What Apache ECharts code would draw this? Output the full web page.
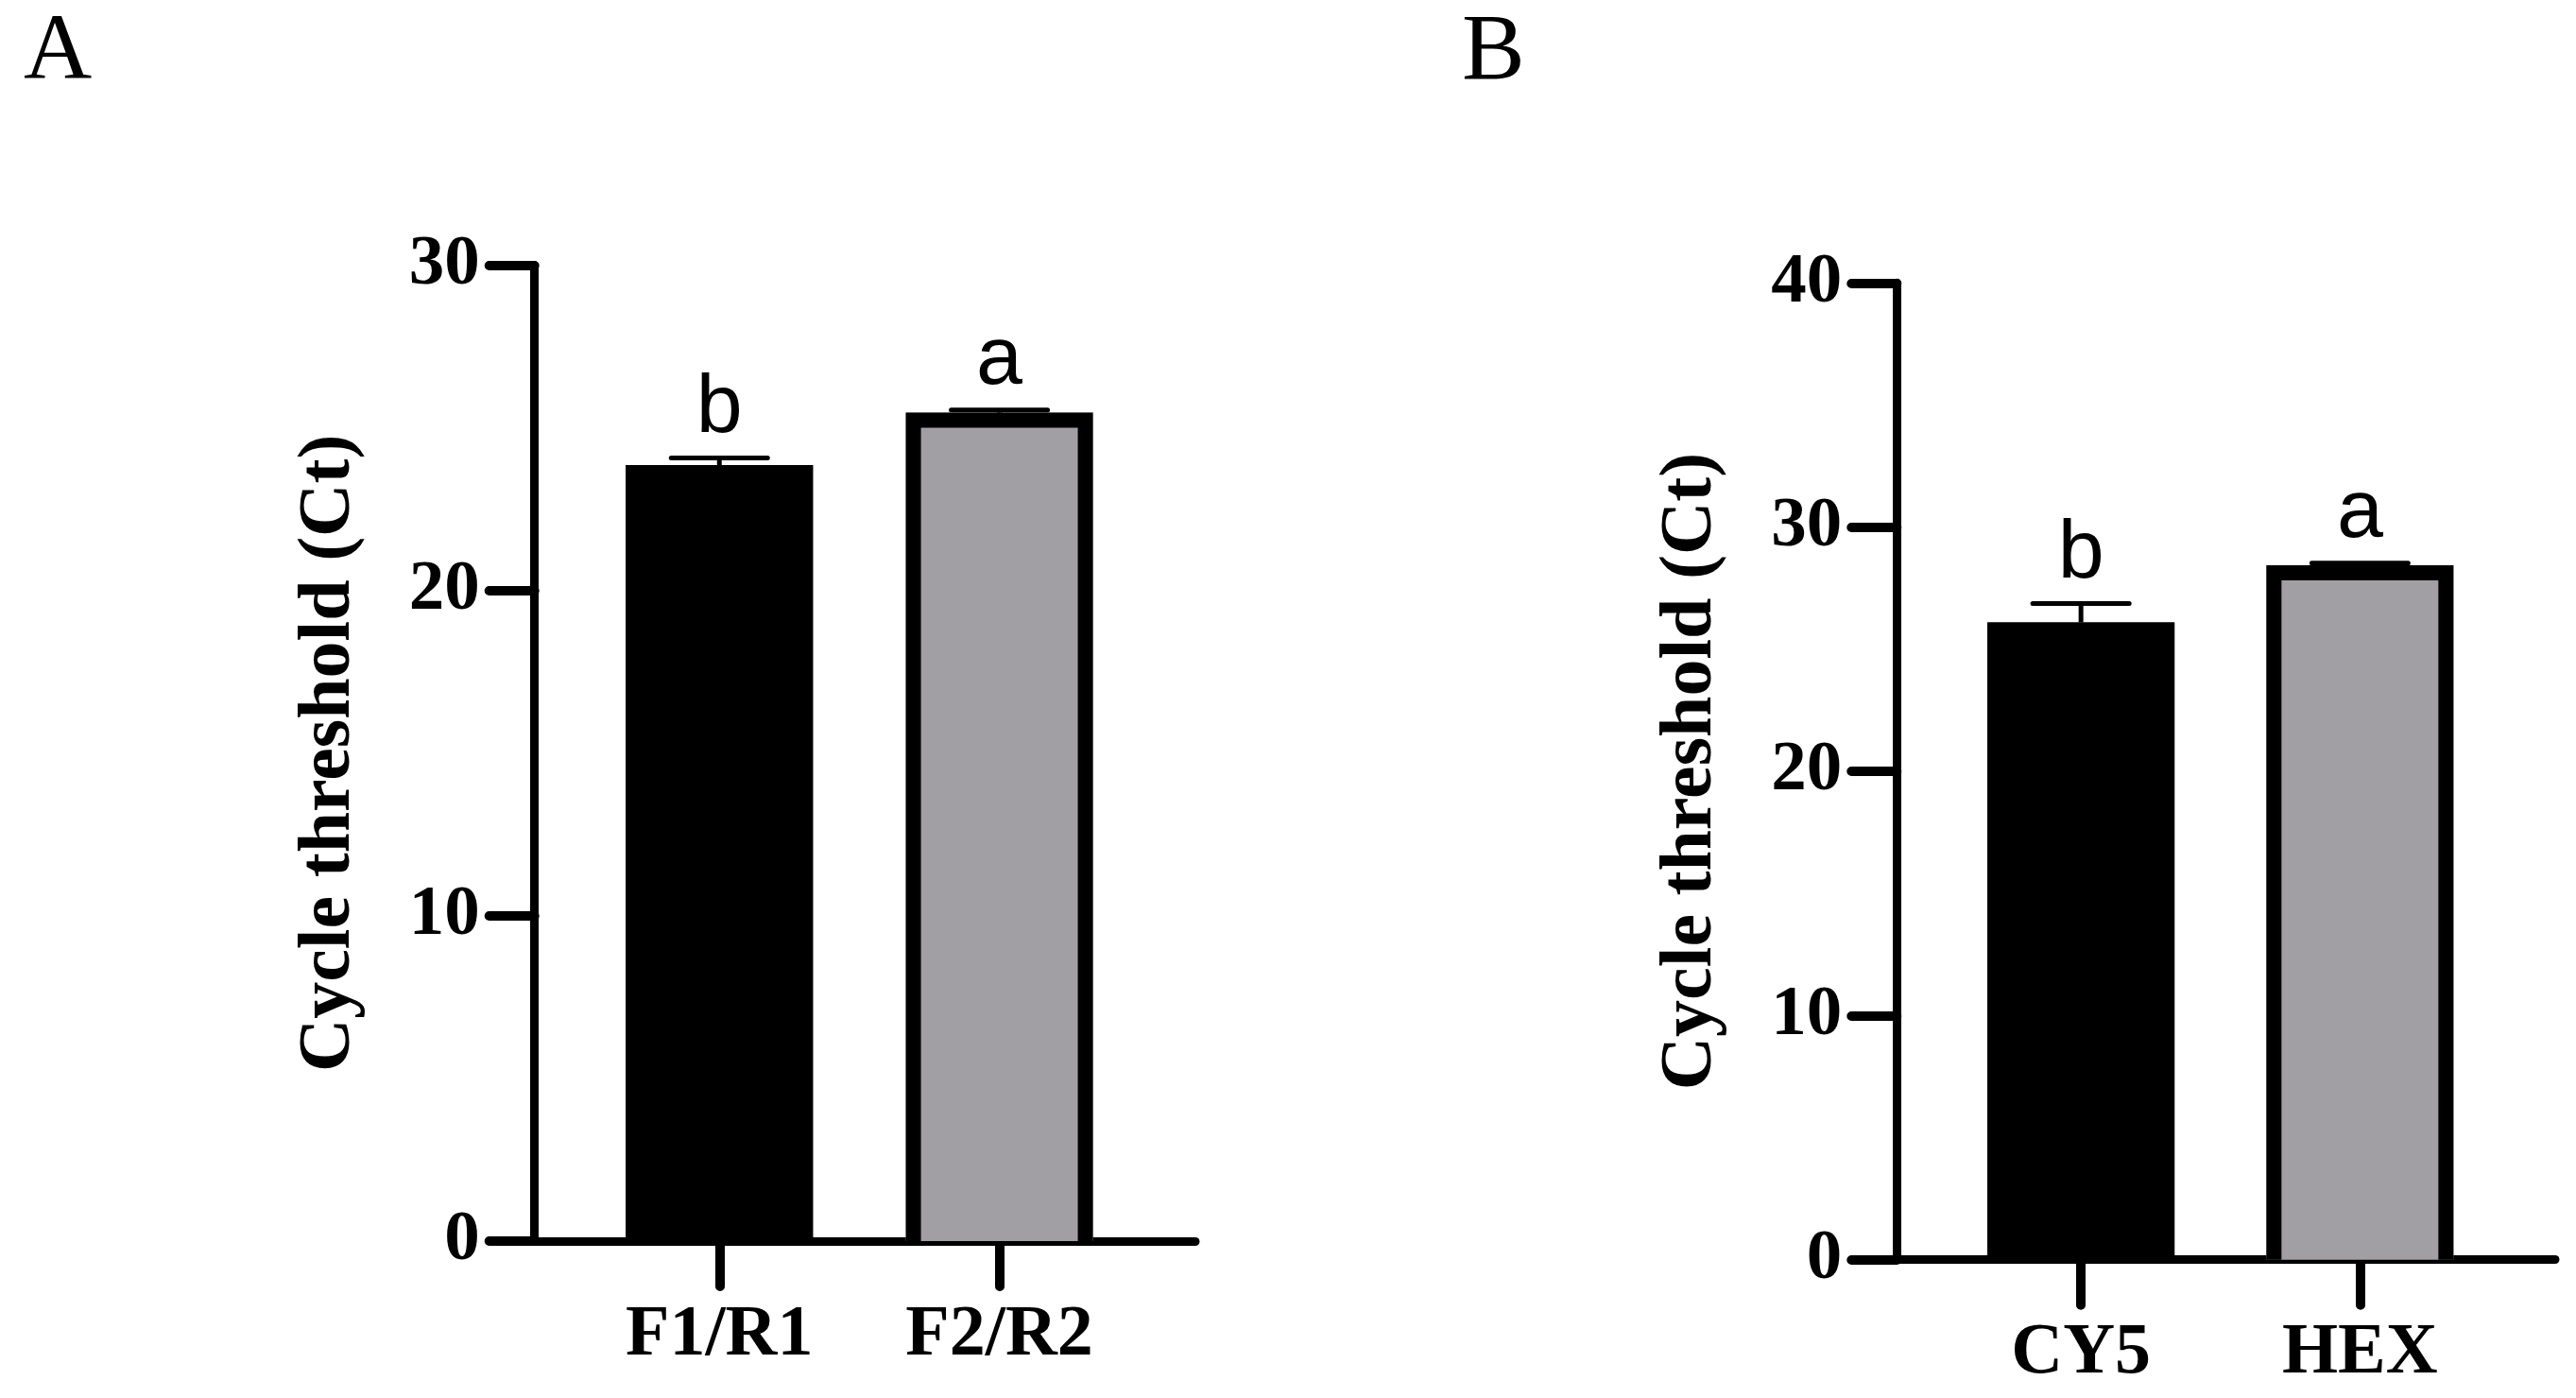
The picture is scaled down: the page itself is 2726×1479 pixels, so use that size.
<!DOCTYPE html>
<html>
<head>
<meta charset="utf-8">
<script src="https://cdn.jsdelivr.net/npm/echarts@6/dist/echarts.min.js"></script>
<style>
  html, body { margin: 0; padding: 0; background: #fff; }
  #main { width: 2726px; height: 1479px; }
</style>
</head>
<body>
<div id="main"></div>
<script>
// panel A: primers
var catsA = ['F1/R1', 'F2/R2'];
var meanA = [23.86, 25.47];
var errA = [0.22, 0.08];
var lettersA = ['b', 'a'];
var ticksA = [0, 10, 20, 30];

// panel B: probes
var catsB = ['CY5', 'HEX'];
var meanB = [26.10, 28.44];
var errB = [0.77, 0.09];
var lettersB = ['b', 'a'];
var ticksB = [0, 10, 20, 30, 40];

var barColors = ['#000000', '#a19fa4'];
var serif = 'Liberation Serif';

var chartDom = document.getElementById('main');
var myChart = echarts.init(chartDom);

//x 轴
function make_x(gridIndex, cats){
    return {
        type: 'value',
        gridIndex: gridIndex,
        min: 0.34,
        max: 2.7,
        splitLine: { show: false },
        axisLine: { onZero: false, lineStyle: { color: '#000', width: 9, cap: 'round' } },
        axisTick: { customValues: [1, 2], length: 48, lineStyle: { color: '#000', width: 10, cap: 'round' } },
        axisLabel: {
            customValues: [1, 2],
            margin: 62,
            color: '#000',
            fontFamily: serif,
            fontWeight: 'bold',
            fontSize: 76,
            lineHeight: 76,
            formatter: function(v){ return cats[Math.round(v) - 1] || ''; }
        }
    };
}
//y 轴
function make_y(gridIndex, ticks){
    return {
        type: 'value',
        gridIndex: gridIndex,
        min: ticks[0],
        max: ticks[ticks.length - 1],
        interval: ticks[1] - ticks[0],
        name: 'Cycle threshold (Ct)',
        nameLocation: 'middle',
        nameGap: 178,
        nameTextStyle: { color: '#000', fontFamily: serif, fontWeight: 'bold', fontSize: 78 },
        splitLine: { show: false },
        axisLine: { onZero: false, lineStyle: { color: '#000', width: 9, cap: 'round' } },
        axisTick: { length: 48, lineStyle: { color: '#000', width: 10, cap: 'round' } },
        axisLabel: { margin: 58, color: '#000', fontFamily: serif, fontWeight: 'bold', fontSize: 75 }
    };
}
function bar_series(idx, means){
    var data = [];
    for (var i = 0; i < means.length; i++){
        data.push({ value: [i + 1, means[i]], itemStyle: { color: barColors[i] } });
    }
    return {
        type: 'bar',
        xAxisIndex: idx,
        yAxisIndex: idx,
        barWidth: 198,
        z: 2,
        data: data
    };
}
//边框(无底边) + 误差线 + 显著性字母
function err_series(idx, means, errs, letters){
    var data = [];
    for (var i = 0; i < means.length; i++){
        data.push([i + 1, means[i], errs[i], i]);
    }
    return {
        type: 'custom',
        xAxisIndex: idx,
        yAxisIndex: idx,
        z: 5,
        data: data,
        renderItem: function(params, api){
            var x = api.value(0), m = api.value(1), e = api.value(2);
            var base = api.coord([x, 0]);
            var p0 = api.coord([x, m]);
            var p1 = api.coord([x, m + e]);
            var bw = 16, inset = 99 - bw / 2;
            var half = 51;
            var lw = 5;
            return {
                type: 'group',
                children: [
                    { type: 'polyline',
                      shape: { points: [[p0[0] - inset, base[1]], [p0[0] - inset, p0[1] + bw / 2],
                                        [p0[0] + inset, p0[1] + bw / 2], [p0[0] + inset, base[1]]] },
                      style: { stroke: '#000', lineWidth: bw, lineJoin: 'miter', fill: null } },
                    { type: 'line', shape: { x1: p0[0], y1: p0[1], x2: p1[0], y2: p1[1] },
                      style: { stroke: '#000', lineWidth: lw } },
                    { type: 'line', shape: { x1: p1[0] - half, y1: p1[1], x2: p1[0] + half, y2: p1[1] },
                      style: { stroke: '#000', lineWidth: lw, lineCap: 'round' } },
                    { type: 'text', x: p1[0], y: p1[1] - 8,
                      style: { text: letters[api.value(3)], align: 'center', verticalAlign: 'bottom',
                               fill: '#000', font: '88px "Liberation Sans"' } }
                ]
            };
        }
    };
}

var option = {
    backgroundColor: '#fff',
    animation: false,
    title: [
        { text: 'A', left: 20, top: 2, textStyle: { color: '#000', fontFamily: serif, fontWeight: 'normal', fontSize: 100 } },
        { text: 'B', left: 1542, top: 2, textStyle: { color: '#000', fontFamily: serif, fontWeight: 'normal', fontSize: 100 } }
    ],
    grid: [
        { left: 565.7, top: 280.7, width: 699.3, height: 1032.3, containLabel: false, outerBoundsMode: 'none' },
        { left: 2007.3, top: 299.3, width: 696.7, height: 1033.4, containLabel: false, outerBoundsMode: 'none' }
    ],
    xAxis: [make_x(0, catsA), make_x(1, catsB)],
    yAxis: [make_y(0, ticksA), make_y(1, ticksB)],
    series: [
        bar_series(0, meanA),
        err_series(0, meanA, errA, lettersA),
        bar_series(1, meanB),
        err_series(1, meanB, errB, lettersB)
    ]
};
option && myChart.setOption(option);
</script>
</body>
</html>
